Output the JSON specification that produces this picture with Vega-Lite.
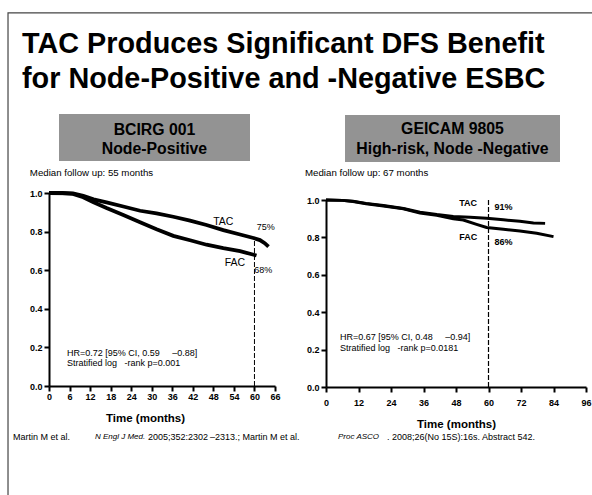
{
  "$schema": "https://vega.github.io/schema/vega-lite/v6.json",
  "width": 592,
  "height": 495,
  "autosize": "none",
  "padding": 0,
  "background": "white",
  "config": {
    "view": {"stroke": null},
    "font": "Liberation Sans",
    "axis": {
      "grid": false,
      "domainColor": "black",
      "domainWidth": 2,
      "tickColor": "black",
      "tickWidth": 2,
      "tickSize": 5,
      "labelFont": "Liberation Sans",
      "labelFontWeight": "bold",
      "labelFontSize": 9,
      "labelColor": "black",
      "titleFont": "Liberation Sans",
      "titleFontWeight": "bold",
      "titleFontSize": 11.5,
      "titleColor": "black"
    },
    "text": {"font": "Liberation Sans", "color": "black"}
  },
  "datasets": {
    "left": [
      {"kind": "frame", "t": -11.97, "s": 1.933, "t2": 200, "s2": -1.3},
      {"kind": "title", "t": -7.885, "s": 1.725, "label": "TAC Produces Significant DFS Benefit"},
      {"kind": "title", "t": -7.885, "s": 1.544, "label": "for Node-Positive and -Negative ESBC"},
      {"kind": "box", "t": 2.92, "s": 1.409, "t2": 58.7, "s2": 1.166},
      {"kind": "head", "t": 30.8, "s": 1.3005, "label": "BCIRG 001"},
      {"kind": "head", "t": 30.8, "s": 1.202, "label": "Node-Positive"},
      {"kind": "median", "t": -5.6, "s": 1.088, "label": "Median follow up: 55 months"},
      {"kind": "curve", "series": "TAC", "t": 0, "s": 1.0},
      {"kind": "curve", "series": "TAC", "t": 7, "s": 0.998},
      {"kind": "curve", "series": "TAC", "t": 10, "s": 0.985},
      {"kind": "curve", "series": "TAC", "t": 13, "s": 0.967},
      {"kind": "curve", "series": "TAC", "t": 16.8, "s": 0.951},
      {"kind": "curve", "series": "TAC", "t": 21.7, "s": 0.93},
      {"kind": "curve", "series": "TAC", "t": 26.6, "s": 0.908},
      {"kind": "curve", "series": "TAC", "t": 31.4, "s": 0.895},
      {"kind": "curve", "series": "TAC", "t": 36.3, "s": 0.877},
      {"kind": "curve", "series": "TAC", "t": 41.2, "s": 0.857},
      {"kind": "curve", "series": "TAC", "t": 46, "s": 0.834},
      {"kind": "curve", "series": "TAC", "t": 50.9, "s": 0.808},
      {"kind": "curve", "series": "TAC", "t": 55.8, "s": 0.785},
      {"kind": "curve", "series": "TAC", "t": 59.7, "s": 0.767},
      {"kind": "curve", "series": "TAC", "t": 61.6, "s": 0.756},
      {"kind": "curve", "series": "TAC", "t": 63, "s": 0.74},
      {"kind": "curve", "series": "TAC", "t": 64.1, "s": 0.722},
      {"kind": "curve", "series": "FAC", "t": 0, "s": 1.0},
      {"kind": "curve", "series": "FAC", "t": 4, "s": 1.0},
      {"kind": "curve", "series": "FAC", "t": 7, "s": 0.995},
      {"kind": "curve", "series": "FAC", "t": 10, "s": 0.978},
      {"kind": "curve", "series": "FAC", "t": 13, "s": 0.952},
      {"kind": "curve", "series": "FAC", "t": 16.8, "s": 0.922},
      {"kind": "curve", "series": "FAC", "t": 21.7, "s": 0.886},
      {"kind": "curve", "series": "FAC", "t": 26.6, "s": 0.848},
      {"kind": "curve", "series": "FAC", "t": 31.4, "s": 0.812},
      {"kind": "curve", "series": "FAC", "t": 36.3, "s": 0.778},
      {"kind": "curve", "series": "FAC", "t": 41.2, "s": 0.755},
      {"kind": "curve", "series": "FAC", "t": 46, "s": 0.732},
      {"kind": "curve", "series": "FAC", "t": 50.9, "s": 0.714},
      {"kind": "curve", "series": "FAC", "t": 55.8, "s": 0.699},
      {"kind": "curve", "series": "FAC", "t": 60.6, "s": 0.676},
      {"kind": "rule", "t": 60, "s": 0, "s2": 0.765},
      {"kind": "lab", "t": 50.9, "s": 0.851, "label": "TAC"},
      {"kind": "lab", "t": 54.3, "s": 0.635, "label": "FAC"},
      {"kind": "pct", "t": 63.3, "s": 0.826, "label": "75%"},
      {"kind": "pct", "t": 62.6, "s": 0.601, "label": "68%"},
      {"kind": "hr", "t": 5.26, "s": 0.171, "label": "HR=0.72 [95% CI, 0.59\u00a0\u00a0\u00a0\u00a0 –0.88]"},
      {"kind": "hr", "t": 5.26, "s": 0.119, "label": "Stratified log\u00a0\u00a0 -rank p=0.001"},
      {"kind": "foot", "t": -10.51, "s": -0.264, "label": "Martin M et al."},
      {"kind": "footi", "t": 13.43, "s": -0.264, "label": "N Engl J Med."},
      {"kind": "foot", "t": 28.9, "s": -0.264, "label": "2005;352:2302"},
      {"kind": "foot", "t": 47.0, "s": -0.264, "label": "–2313.; Martin M et al."},
      {"kind": "footi", "t": 84.4, "s": -0.264, "label": "Proc ASCO"},
      {"kind": "foot", "t": 98.71, "s": -0.264, "label": ". 2008;26(No 15S):16s. Abstract 542."}
    ],
    "right": [
      {"kind": "box", "t": 7.02, "s": 1.4545, "t2": 86.4, "s2": 1.2032},
      {"kind": "head", "t": 46.7, "s": 1.353, "label": "GEICAM 9805"},
      {"kind": "head", "t": 46.7, "s": 1.244, "label": "High-risk, Node -Negative"},
      {"kind": "median", "t": -7.75, "s": 1.128, "label": "Median follow up: 67 months"},
      {"kind": "curve", "series": "TAC", "t": 0, "s": 1.0},
      {"kind": "curve", "series": "TAC", "t": 6, "s": 0.998},
      {"kind": "curve", "series": "TAC", "t": 10, "s": 0.993},
      {"kind": "curve", "series": "TAC", "t": 14.8, "s": 0.982},
      {"kind": "curve", "series": "TAC", "t": 21.2, "s": 0.97},
      {"kind": "curve", "series": "TAC", "t": 28.6, "s": 0.955},
      {"kind": "curve", "series": "TAC", "t": 34.7, "s": 0.935},
      {"kind": "curve", "series": "TAC", "t": 40.9, "s": 0.922},
      {"kind": "curve", "series": "TAC", "t": 47, "s": 0.912},
      {"kind": "curve", "series": "TAC", "t": 53.2, "s": 0.908},
      {"kind": "curve", "series": "TAC", "t": 59.3, "s": 0.903},
      {"kind": "curve", "series": "TAC", "t": 65.5, "s": 0.894},
      {"kind": "curve", "series": "TAC", "t": 71.6, "s": 0.886},
      {"kind": "curve", "series": "TAC", "t": 76.6, "s": 0.877},
      {"kind": "curve", "series": "TAC", "t": 80.9, "s": 0.875},
      {"kind": "curve", "series": "FAC", "t": 0, "s": 1.0},
      {"kind": "curve", "series": "FAC", "t": 6, "s": 0.998},
      {"kind": "curve", "series": "FAC", "t": 10, "s": 0.992},
      {"kind": "curve", "series": "FAC", "t": 14.8, "s": 0.98},
      {"kind": "curve", "series": "FAC", "t": 21.2, "s": 0.968},
      {"kind": "curve", "series": "FAC", "t": 28.6, "s": 0.953},
      {"kind": "curve", "series": "FAC", "t": 34.7, "s": 0.93},
      {"kind": "curve", "series": "FAC", "t": 40.9, "s": 0.918},
      {"kind": "curve", "series": "FAC", "t": 47, "s": 0.9},
      {"kind": "curve", "series": "FAC", "t": 50.7, "s": 0.893},
      {"kind": "curve", "series": "FAC", "t": 55.6, "s": 0.87},
      {"kind": "curve", "series": "FAC", "t": 59.3, "s": 0.853},
      {"kind": "curve", "series": "FAC", "t": 65.5, "s": 0.843},
      {"kind": "curve", "series": "FAC", "t": 71.6, "s": 0.834},
      {"kind": "curve", "series": "FAC", "t": 77.8, "s": 0.822},
      {"kind": "curve", "series": "FAC", "t": 84, "s": 0.804},
      {"kind": "rule", "t": 60, "s": 0, "s2": 1.01},
      {"kind": "lab", "t": 52.5, "s": 0.982, "label": "TAC"},
      {"kind": "lab", "t": 52.5, "s": 0.804, "label": "FAC"},
      {"kind": "pct", "t": 65.5, "s": 0.965, "label": "91%"},
      {"kind": "pct", "t": 65.5, "s": 0.777, "label": "86%"},
      {"kind": "hr", "t": 5.17, "s": 0.267, "label": "HR=0.67 [95% CI, 0.48\u00a0\u00a0\u00a0\u00a0 –0.94]"},
      {"kind": "hr", "t": 5.17, "s": 0.2086, "label": "Stratified log\u00a0\u00a0 -rank p=0.0181"}
    ]
  },
  "layer": [
    {
      "data": {"name": "left"},
      "encoding": {
        "x": {
          "field": "t", "type": "quantitative",
          "scale": {"domain": [0, 66], "range": [49, 275], "nice": false, "zero": false},
          "axis": {"orient": "bottom", "offset": -109, "values": [0, 6, 12, 18, 24, 30, 36, 42, 48, 54, 60, 66], "title": "Time (months)", "titleX": 145, "titlePadding": 11, "labelPadding": 1, "labelFlush": false}
        },
        "y": {
          "field": "s", "type": "quantitative",
          "scale": {"domain": [0, 1], "range": [386, 193], "nice": false, "zero": false},
          "axis": {"orient": "left", "offset": -49, "values": [0, 0.2, 0.4, 0.6, 0.8, 1], "format": ".1f", "title": null, "labelPadding": 2, "labelFlush": false}
        }
      },
      "layer": [
        {"transform": [{"filter": "datum.kind === 'frame'"}], "mark": {"type": "rect", "fill": null, "stroke": "#444444", "strokeWidth": 1.2}, "encoding": {"x2": {"field": "t2"}, "y2": {"field": "s2"}}},
        {"transform": [{"filter": "datum.kind === 'title'"}], "mark": {"type": "text", "align": "left", "baseline": "alphabetic", "fontSize": 28.8, "fontWeight": "bold"}, "encoding": {"text": {"field": "label"}}},
        {"transform": [{"filter": "datum.kind === 'box'"}], "mark": {"type": "rect", "fill": "#939393"}, "encoding": {"x2": {"field": "t2"}, "y2": {"field": "s2"}}},
        {"transform": [{"filter": "datum.kind === 'head'"}], "mark": {"type": "text", "align": "center", "baseline": "alphabetic", "fontSize": 15.8, "fontWeight": "bold"}, "encoding": {"text": {"field": "label"}}},
        {"transform": [{"filter": "datum.kind === 'median'"}], "mark": {"type": "text", "align": "left", "baseline": "alphabetic", "fontSize": 9.7}, "encoding": {"text": {"field": "label"}}},
        {"transform": [{"filter": "datum.kind === 'rule'"}], "mark": {"type": "rule", "color": "black", "strokeWidth": 1, "strokeDash": [5, 2]}, "encoding": {"y2": {"field": "s2"}}},
        {"transform": [{"filter": "datum.kind === 'curve'"}], "mark": {"type": "line", "color": "black", "strokeWidth": 3.8}, "encoding": {"detail": {"field": "series"}}},
        {"transform": [{"filter": "datum.kind === 'lab'"}], "mark": {"type": "text", "align": "center", "baseline": "middle", "fontSize": 10.5}, "encoding": {"text": {"field": "label"}}},
        {"transform": [{"filter": "datum.kind === 'pct'"}], "mark": {"type": "text", "align": "center", "baseline": "middle", "fontSize": 9}, "encoding": {"text": {"field": "label"}}},
        {"transform": [{"filter": "datum.kind === 'hr'"}], "mark": {"type": "text", "align": "left", "baseline": "middle", "fontSize": 9}, "encoding": {"text": {"field": "label"}}},
        {"transform": [{"filter": "datum.kind === 'foot'"}], "mark": {"type": "text", "align": "left", "baseline": "middle", "fontSize": 9}, "encoding": {"text": {"field": "label"}}},
        {"transform": [{"filter": "datum.kind === 'footi'"}], "mark": {"type": "text", "align": "left", "baseline": "middle", "fontSize": 8, "fontStyle": "italic"}, "encoding": {"text": {"field": "label"}}}
      ]
    },
    {
      "data": {"name": "right"},
      "encoding": {
        "x": {
          "field": "t", "type": "quantitative",
          "scale": {"domain": [0, 96], "range": [326, 586], "nice": false, "zero": false},
          "axis": {"orient": "bottom", "offset": -108, "values": [0, 12, 24, 36, 48, 60, 72, 84, 96], "title": "Time (months)", "titlePadding": 11, "labelPadding": 6, "labelFlush": false}
        },
        "y": {
          "field": "s", "type": "quantitative",
          "scale": {"domain": [0, 1], "range": [387, 200], "nice": false, "zero": false},
          "axis": {"orient": "left", "offset": -326, "values": [0, 0.2, 0.4, 0.6, 0.8, 1], "format": ".1f", "title": null, "labelPadding": 2, "labelFlush": false}
        }
      },
      "layer": [
        {"transform": [{"filter": "datum.kind === 'box'"}], "mark": {"type": "rect", "fill": "#939393"}, "encoding": {"x2": {"field": "t2"}, "y2": {"field": "s2"}}},
        {"transform": [{"filter": "datum.kind === 'head'"}], "mark": {"type": "text", "align": "center", "baseline": "alphabetic", "fontSize": 15.8, "fontWeight": "bold"}, "encoding": {"text": {"field": "label"}}},
        {"transform": [{"filter": "datum.kind === 'median'"}], "mark": {"type": "text", "align": "left", "baseline": "alphabetic", "fontSize": 9.7}, "encoding": {"text": {"field": "label"}}},
        {"transform": [{"filter": "datum.kind === 'rule'"}], "mark": {"type": "rule", "color": "black", "strokeWidth": 1.2, "strokeDash": [5, 2]}, "encoding": {"y2": {"field": "s2"}}},
        {"transform": [{"filter": "datum.kind === 'curve'"}], "mark": {"type": "line", "color": "black", "strokeWidth": 3}, "encoding": {"detail": {"field": "series"}}},
        {"transform": [{"filter": "datum.kind === 'lab'"}], "mark": {"type": "text", "align": "center", "baseline": "middle", "fontSize": 9, "fontWeight": "bold"}, "encoding": {"text": {"field": "label"}}},
        {"transform": [{"filter": "datum.kind === 'pct'"}], "mark": {"type": "text", "align": "center", "baseline": "middle", "fontSize": 9, "fontWeight": "bold"}, "encoding": {"text": {"field": "label"}}},
        {"transform": [{"filter": "datum.kind === 'hr'"}], "mark": {"type": "text", "align": "left", "baseline": "middle", "fontSize": 9}, "encoding": {"text": {"field": "label"}}}
      ]
    }
  ],
  "resolve": {
    "scale": {"x": "independent", "y": "independent"},
    "axis": {"x": "independent", "y": "independent"}
  }
}
